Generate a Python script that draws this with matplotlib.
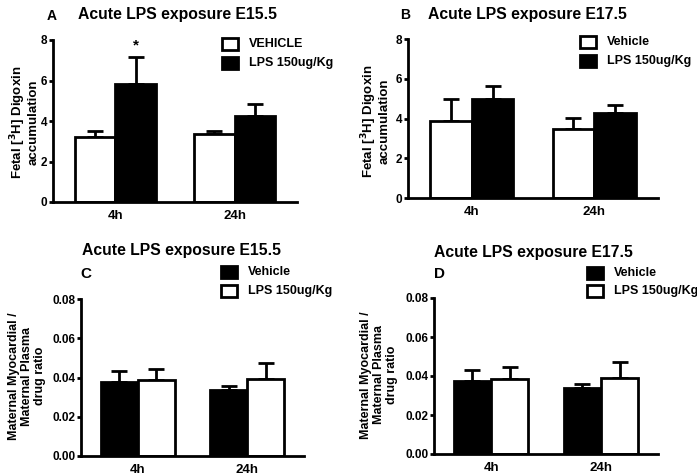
import matplotlib
matplotlib.use('Agg')
import matplotlib.pyplot as plt
from matplotlib.patches import Rectangle
import numpy as np

# data
groups = ['4h', '24h']

# A: E15.5 fetal digoxin
a_veh = [3.19, 3.36]
a_veh_err = [0.33, 0.13]
a_lps = [5.85, 4.23]
a_lps_err = [1.31, 0.60]

# B: E17.5 fetal digoxin
b_veh = [3.89, 3.47]
b_veh_err = [1.10, 0.55]
b_lps = [4.97, 4.26]
b_lps_err = [0.67, 0.40]

# C / D: maternal myocardial / plasma ratio
c_veh = [0.0375, 0.0338]
c_veh_err = [0.0058, 0.0020]
c_lps = [0.0386, 0.0392]
c_lps_err = [0.0057, 0.0082]

d_veh = [0.0375, 0.0338]
d_veh_err = [0.0058, 0.0022]
d_lps = [0.0386, 0.0392]
d_lps_err = [0.0058, 0.0082]

plt.rcParams['font.family'] = ['Liberation Sans', 'DejaVu Sans']
plt.rcParams['font.weight'] = 'bold'

fig = plt.figure(figsize=(6.97, 4.76), dpi=100)
W, H = 697.0, 476.0

def px_axes(l, t, r, b):
    return fig.add_axes([l / W, 1 - b / H, (r - l) / W, (b - t) / H])

def draw_panel(ax, v1, e1, v2, e2, c1, c2, ymax, yticks, fmt, w=0.34):
    x = np.arange(len(groups))
    for xs, vals, errs, col in [(x - w / 2, v1, e1, c1), (x + w / 2, v2, e2, c2)]:
        ax.bar(xs, vals, width=w, color=col, edgecolor='black', linewidth=2.0, zorder=2)
        ax.errorbar(xs, vals, yerr=[np.zeros(len(errs)), errs], fmt='none',
                    ecolor='black', elinewidth=2.0, capsize=6, capthick=2.0, zorder=1)
    ax.set_xlim(-0.52, 1.52)
    ax.set_ylim(0, ymax)
    ax.set_yticks(yticks)
    ax.set_yticklabels([fmt % t for t in yticks], fontsize=8.5, fontweight='bold')
    ax.set_xticks(x)
    ax.set_xticklabels(groups, fontsize=9.5, fontweight='bold')
    ax.tick_params(axis='x', length=0, pad=6)
    ax.tick_params(axis='y', length=3, width=2, pad=1)
    for s in ['top', 'right']:
        ax.spines[s].set_visible(False)
    for s in ['left', 'bottom']:
        ax.spines[s].set_linewidth(2.0)

def legend_px(x, y, labels, colors, dy=19):
    for i, (lab, col) in enumerate(zip(labels, colors)):
        yy = y + i * dy
        fig.patches.append(Rectangle((x / W, 1 - (yy + 6) / H), 16 / W, 12 / H,
                                     transform=fig.transFigure, facecolor=col,
                                     edgecolor='black', linewidth=2))
        fig.text((x + 27) / W, 1 - yy / H, lab, fontsize=9, fontweight='bold',
                 va='center', ha='left')

fetal_lab = 'Fetal [$\\mathbf{^3}$H] Digoxin\naccumulation'
mat_lab = 'Maternal Myocardial /\nMaternal Plasma\ndrug ratio'

# panel A
axA = px_axes(53, 40, 297, 202)
draw_panel(axA, a_veh, a_veh_err, a_lps, a_lps_err, 'white', 'black', 8, [0, 2, 4, 6, 8], '%d')
axA.text(0 + 0.17, a_lps[0] + a_lps_err[0] + 0.2, '*', ha='center', va='bottom',
         fontsize=11, fontweight='bold')
fig.text(24 / W, 1 - 122 / H, fetal_lab, rotation=90,
         ha='center', va='center', fontsize=9.5, fontweight='bold', linespacing=1.0)
fig.text(178 / W, 1 - 14 / H, 'Acute LPS exposure E15.5', ha='center', va='center',
         fontsize=11.3, fontweight='bold')
fig.text(52 / W, 1 - 16 / H, 'A', ha='center', va='center', fontsize=10, fontweight='bold')
legend_px(222, 44, ['VEHICLE', 'LPS 150ug/Kg'], ['white', 'black'])

# panel B
axB = px_axes(408, 39, 658, 198)
draw_panel(axB, b_veh, b_veh_err, b_lps, b_lps_err, 'white', 'black', 8, [0, 2, 4, 6, 8], '%d')
fig.text(375 / W, 1 - 121 / H, fetal_lab, rotation=90,
         ha='center', va='center', fontsize=9.5, fontweight='bold', linespacing=1.0)
fig.text(527 / W, 1 - 14 / H, 'Acute LPS exposure E17.5', ha='center', va='center',
         fontsize=11.3, fontweight='bold')
fig.text(405 / W, 1 - 15 / H, 'B', ha='center', va='center', fontsize=10)
legend_px(580, 42, ['Vehicle', 'LPS 150ug/Kg'], ['white', 'black'])

# panel C
axC = px_axes(81, 299, 304, 456)
draw_panel(axC, c_veh, c_veh_err, c_lps, c_lps_err, 'black', 'white', 0.08,
           [0, 0.02, 0.04, 0.06, 0.08], '%.2f')
fig.text(27 / W, 1 - 376 / H, mat_lab, rotation=90,
         ha='center', va='center', fontsize=9, fontweight='bold', linespacing=1.1)
fig.text(181 / W, 1 - 251 / H, 'Acute LPS exposure E15.5', ha='center', va='center',
         fontsize=11.3, fontweight='bold')
fig.text(86 / W, 1 - 274 / H, 'C', ha='center', va='center', fontsize=11)
legend_px(221, 272, ['Vehicle', 'LPS 150ug/Kg'], ['black', 'white'])

# panel D
axD = px_axes(434, 298, 658, 454)
draw_panel(axD, d_veh, d_veh_err, d_lps, d_lps_err, 'black', 'white', 0.08,
           [0, 0.02, 0.04, 0.06, 0.08], '%.2f')
fig.text(379 / W, 1 - 375 / H, mat_lab, rotation=90,
         ha='center', va='center', fontsize=9, fontweight='bold', linespacing=1.1)
fig.text(533 / W, 1 - 252 / H, 'Acute LPS exposure E17.5', ha='center', va='center',
         fontsize=11.3, fontweight='bold')
fig.text(440 / W, 1 - 274 / H, 'D', ha='center', va='center', fontsize=11, fontweight='bold')
legend_px(587, 273, ['Vehicle', 'LPS 150ug/Kg'], ['black', 'white'], dy=18)

fig.savefig('out.png', dpi=100)
